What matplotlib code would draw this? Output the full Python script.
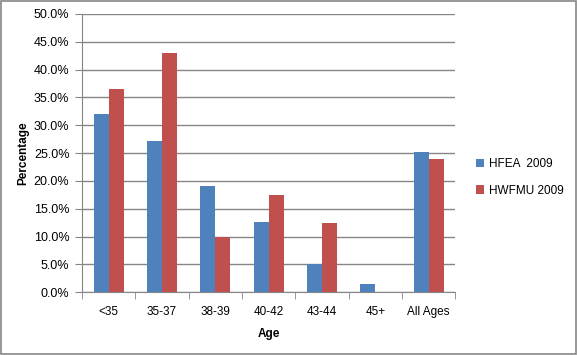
import numpy as np
import matplotlib.pyplot as plt
from matplotlib.patches import Rectangle
from matplotlib.ticker import PercentFormatter

plt.rcParams['font.family'] = ['Liberation Sans', 'DejaVu Sans']

ages = ["<35", "35-37", "38-39", "40-42", "43-44", "45+", "All Ages"]
hfea = [32.0, 27.2, 19.1, 12.6, 5.0, 1.4, 25.2]
hwfmu = [36.5, 43.0, 10.0, 17.5, 12.5, 0.0, 24.0]

blue = '#4f81bd'
red = '#c0504d'
gray = '#868686'

fig = plt.figure(figsize=(5.77, 3.55), dpi=100)
ax = fig.add_axes([0.142, 0.177, 0.647, 0.784])

barWidth = 0.28
x = np.arange(len(ages))
ax.bar(x - barWidth / 2, hfea, width=barWidth, color=blue, label='HFEA  2009', zorder=3)
ax.bar(x + barWidth / 2, hwfmu, width=barWidth, color=red, label='HWFMU 2009', zorder=3)

ax.set_xlim(-0.5, len(ages) - 0.5)
ax.set_ylim(0, 50)
ax.set_yticks(np.arange(0, 50.1, 5))
ax.yaxis.set_major_formatter(PercentFormatter(decimals=1))
ax.grid(axis='y', color=gray, linewidth=1, zorder=0)

ax.set_xticks(x)
ax.set_xticklabels(ages)
ax.set_xticks(np.arange(-0.5, len(ages), 1), minor=True)
ax.tick_params(axis='x', which='major', length=0, pad=10, labelsize=8.5, colors='black')
ax.tick_params(axis='x', which='minor', length=5, color=gray, direction='out')
ax.tick_params(axis='y', length=5, color=gray, labelsize=9, pad=4)

for s in ['top', 'right']:
    ax.spines[s].set_visible(False)
for s in ['left', 'bottom']:
    ax.spines[s].set_color(gray)

ax.set_ylabel('Percentage', fontweight='bold', fontsize=8.5, labelpad=3)
ax.set_xlabel('Age', fontweight='bold', fontsize=8.5, labelpad=7)

fig.legend(loc='center left', bbox_to_anchor=(0.806, 0.5), frameon=False,
           fontsize=8.5, handlelength=0.7, handleheight=0.7, handletextpad=0.4,
           labelspacing=1.2)

fig.patches.append(Rectangle((0.002, 0.003), 0.996, 0.994, transform=fig.transFigure,
                             fill=False, edgecolor=gray, linewidth=1.2))

fig.savefig('out.png', dpi=100)
